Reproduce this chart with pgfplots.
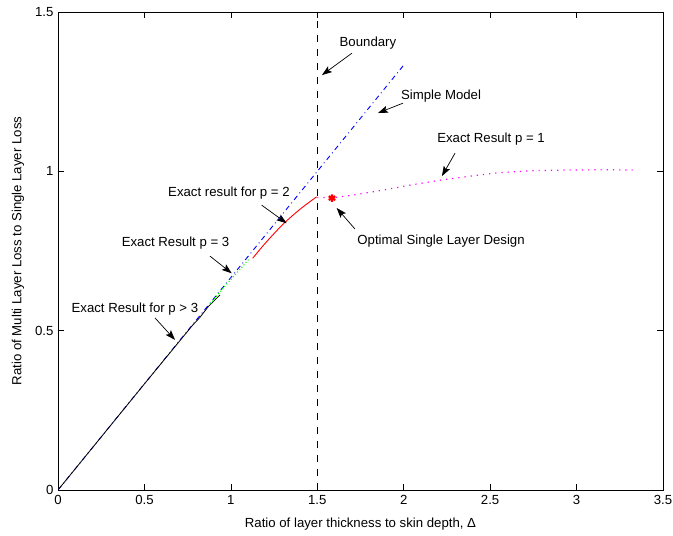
\documentclass[border=0pt]{standalone}
\usepackage{pgfplots}
\pgfplotsset{compat=1.18}
\usepackage{fontspec}
\setmainfont{Liberation Sans}
\usetikzlibrary{arrows.meta,calc}
\definecolor{mgreen}{rgb}{0,1,0}
\definecolor{mmag}{rgb}{1,0,1}
\begin{document}
\fontsize{13.2}{15}\selectfont
\begin{tikzpicture}[>={Stealth[length=10pt,width=7pt,inset=2pt]}]
\begin{axis}[
  scale only axis, width=605pt, height=478pt,
  xmin=0, xmax=3.5, ymin=0, ymax=1.5,
  xtick={0,0.5,1,1.5,2,2.5,3,3.5}, ytick={0,0.5,1,1.5},
  tick align=inside, major tick length=6pt,
  tick style={black, line width=0.6pt},
  axis line style={line width=0.8pt},
  /pgf/number format/assume math mode=true,
  xticklabel style={yshift=-1pt},
  xlabel={Ratio of layer thickness to skin depth, Δ},
  ylabel={Ratio of Multi Layer Loss to Single Layer Loss},
  xlabel style={yshift=-4pt},
  ylabel style={yshift=2pt},
]
\coordinate (ll) at (rel axis cs:0,0);
\coordinate (ur) at (rel axis cs:1,1);
% boundary
\addplot[black, line width=0.8pt, dash pattern=on 7pt off 7pt] coordinates {(1.5,0) (1.5,1.5)};
% simple model
\addplot[blue, line width=0.9pt, dash pattern=on 5pt off 3.5pt on 0.9pt off 3.5pt] coordinates {(0,0) (2,1.3333)};
% p > 3
\addplot[black, line width=0.8pt] coordinates {(0,0) (0.5,0.333) (0.78,0.518) (0.82,0.541) (0.87,0.576) (0.937,0.612)};
% p = 3
\addplot[mgreen, line width=1.1pt, dash pattern=on 1pt off 2.2pt] coordinates {(0.88,0.584) (0.96,0.636) (1.02,0.673) (1.07,0.703) (1.11,0.728)};
% p = 2
\addplot[red, line width=0.9pt, smooth] coordinates {(1.126,0.727) (1.2,0.775) (1.3,0.833) (1.4,0.881) (1.496,0.920)};
% p = 1
\addplot[mmag, line width=1.2pt, dash pattern=on 1.2pt off 5pt] coordinates {(1.5,0.918) (1.6,0.918) (1.7,0.925) (1.88,0.941) (2.05,0.958) (2.22,0.973) (2.4,0.986) (2.556,0.996) (2.75,1.002) (2.94,1.004) (3.15,1.005) (3.35,1.004)};
% optimum
\addplot[red, only marks, mark=asterisk, mark size=3.8pt, line width=2.2pt] coordinates {(1.585,0.916)};
% annotations
\node at (axis cs:1.793,1.403) {Boundary};
\draw[->, line width=0.7pt] (axis cs:1.701,1.371) -- (axis cs:1.527,1.302);
\node at (axis cs:2.216,1.236) {Simple Model};
\draw[->, line width=0.7pt] (axis cs:1.996,1.214) -- (axis cs:1.851,1.183);
\node at (axis cs:2.505,1.101) {Exact Result p = 1};
\draw[->, line width=0.7pt] (axis cs:2.297,1.057) -- (axis cs:2.221,0.985);
\node at (axis cs:0.989,0.932) {Exact result for p = 2};
\draw[->, line width=0.7pt] (axis cs:1.178,0.894) -- (axis cs:1.323,0.837);
\node at (axis cs:0.680,0.775) {Exact Result p = 3};
\draw[->, line width=0.7pt] (axis cs:0.879,0.734) -- (axis cs:1.005,0.680);
\node at (axis cs:0.445,0.568) {Exact Result for p > 3};
\draw[->, line width=0.7pt] (axis cs:0.561,0.540) -- (axis cs:0.677,0.471);
\node at (axis cs:2.216,0.781) {Optimal Single Layer Design};
\draw[->, line width=0.7pt] (axis cs:1.718,0.819) -- (axis cs:1.612,0.885);
\end{axis}
\pgfresetboundingbox
\path ($(ll)+(-58pt,-45pt)$) rectangle ($(ur)+(10pt,12pt)$);
\end{tikzpicture}
\end{document}
